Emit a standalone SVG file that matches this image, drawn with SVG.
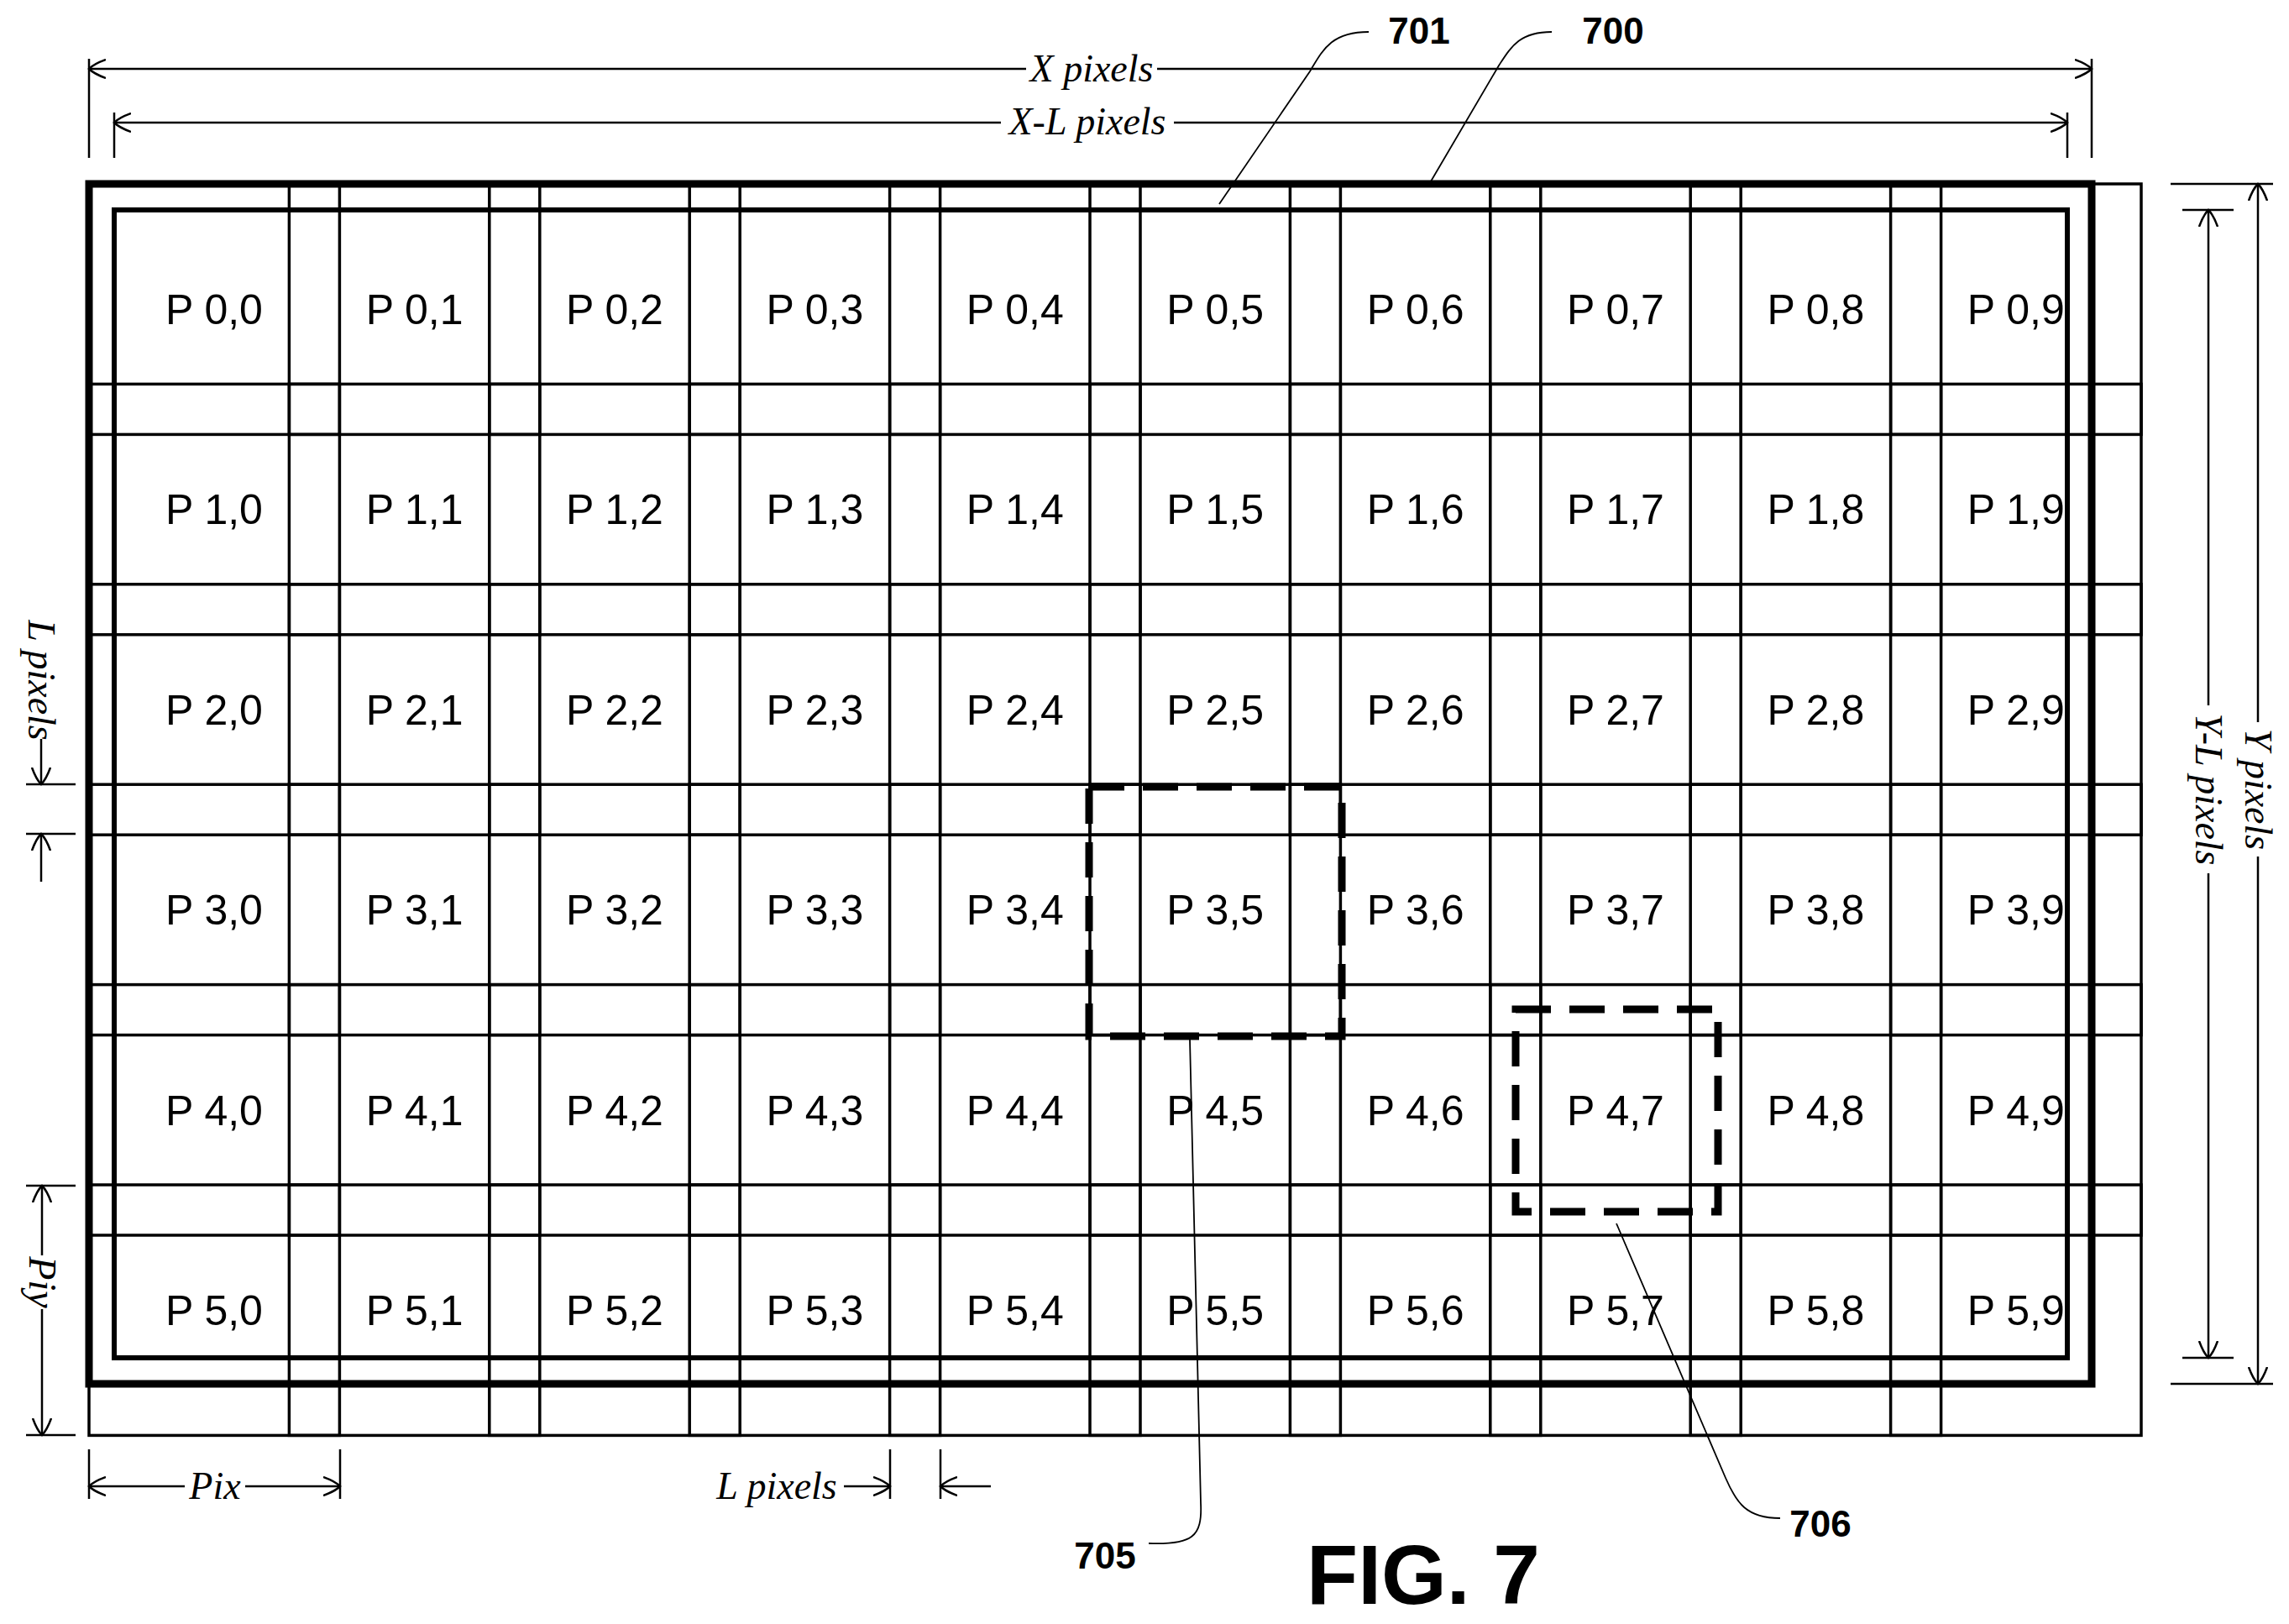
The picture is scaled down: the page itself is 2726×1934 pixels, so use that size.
<svg xmlns="http://www.w3.org/2000/svg" width="2726" height="1934" viewBox="0 0 2726 1934">
<style>
.px rect{fill:none;stroke:#000;stroke-width:3.5}
.px text{font-family:"Liberation Sans",Arial,sans-serif;font-size:50px;text-anchor:middle}
.dim{stroke:#000;stroke-width:2.5;fill:none}
.ld{stroke:#000;stroke-width:1.8;fill:none}
.dl{font-family:"Liberation Serif","Times New Roman",serif;font-style:italic;font-size:46px;text-anchor:middle}
.ref{font-family:"Liberation Sans",Arial,sans-serif;font-weight:bold;font-size:44px;text-anchor:middle}
.bg{fill:#fff;stroke:none}
.dash{fill:none;stroke:#000;stroke-width:9;stroke-dasharray:42 22}
</style>
<defs>
<marker id="ar" viewBox="-20 -12 22 24" refX="0" refY="0" markerWidth="22" markerHeight="24" markerUnits="userSpaceOnUse" orient="auto-start-reverse">
<path d="M-20,-11 Q-6,-6 0,0 Q-6,6 -20,11" fill="none" stroke="#000" stroke-width="2.5"/>
</marker>
</defs>
<rect width="2726" height="1934" fill="#fff"/>
<g id="pixels">
<g id="p00" class="px"><rect x="106" y="219" width="298.4" height="298.4"/><text x="255" y="386">P 0,0</text></g>
<g id="p01" class="px"><rect x="344.4" y="219" width="298.4" height="298.4"/><text x="493.6" y="386">P 0,1</text></g>
<g id="p02" class="px"><rect x="582.8" y="219" width="298.4" height="298.4"/><text x="732" y="386">P 0,2</text></g>
<g id="p03" class="px"><rect x="821.2" y="219" width="298.4" height="298.4"/><text x="970.4" y="386">P 0,3</text></g>
<g id="p04" class="px"><rect x="1059.6" y="219" width="298.4" height="298.4"/><text x="1208.8" y="386">P 0,4</text></g>
<g id="p05" class="px"><rect x="1298" y="219" width="298.4" height="298.4"/><text x="1447.2" y="386">P 0,5</text></g>
<g id="p06" class="px"><rect x="1536.4" y="219" width="298.4" height="298.4"/><text x="1685.6" y="386">P 0,6</text></g>
<g id="p07" class="px"><rect x="1774.8" y="219" width="298.4" height="298.4"/><text x="1924" y="386">P 0,7</text></g>
<g id="p08" class="px"><rect x="2013.2" y="219" width="298.4" height="298.4"/><text x="2162.4" y="386">P 0,8</text></g>
<g id="p09" class="px"><rect x="2251.6" y="219" width="298.4" height="298.4"/><text x="2400.8" y="386">P 0,9</text></g>
<g id="p10" class="px"><rect x="106" y="457.4" width="298.4" height="298.4"/><text x="255" y="624.4">P 1,0</text></g>
<g id="p11" class="px"><rect x="344.4" y="457.4" width="298.4" height="298.4"/><text x="493.6" y="624.4">P 1,1</text></g>
<g id="p12" class="px"><rect x="582.8" y="457.4" width="298.4" height="298.4"/><text x="732" y="624.4">P 1,2</text></g>
<g id="p13" class="px"><rect x="821.2" y="457.4" width="298.4" height="298.4"/><text x="970.4" y="624.4">P 1,3</text></g>
<g id="p14" class="px"><rect x="1059.6" y="457.4" width="298.4" height="298.4"/><text x="1208.8" y="624.4">P 1,4</text></g>
<g id="p15" class="px"><rect x="1298" y="457.4" width="298.4" height="298.4"/><text x="1447.2" y="624.4">P 1,5</text></g>
<g id="p16" class="px"><rect x="1536.4" y="457.4" width="298.4" height="298.4"/><text x="1685.6" y="624.4">P 1,6</text></g>
<g id="p17" class="px"><rect x="1774.8" y="457.4" width="298.4" height="298.4"/><text x="1924" y="624.4">P 1,7</text></g>
<g id="p18" class="px"><rect x="2013.2" y="457.4" width="298.4" height="298.4"/><text x="2162.4" y="624.4">P 1,8</text></g>
<g id="p19" class="px"><rect x="2251.6" y="457.4" width="298.4" height="298.4"/><text x="2400.8" y="624.4">P 1,9</text></g>
<g id="p20" class="px"><rect x="106" y="695.8" width="298.4" height="298.4"/><text x="255" y="862.8">P 2,0</text></g>
<g id="p21" class="px"><rect x="344.4" y="695.8" width="298.4" height="298.4"/><text x="493.6" y="862.8">P 2,1</text></g>
<g id="p22" class="px"><rect x="582.8" y="695.8" width="298.4" height="298.4"/><text x="732" y="862.8">P 2,2</text></g>
<g id="p23" class="px"><rect x="821.2" y="695.8" width="298.4" height="298.4"/><text x="970.4" y="862.8">P 2,3</text></g>
<g id="p24" class="px"><rect x="1059.6" y="695.8" width="298.4" height="298.4"/><text x="1208.8" y="862.8">P 2,4</text></g>
<g id="p25" class="px"><rect x="1298" y="695.8" width="298.4" height="298.4"/><text x="1447.2" y="862.8">P 2,5</text></g>
<g id="p26" class="px"><rect x="1536.4" y="695.8" width="298.4" height="298.4"/><text x="1685.6" y="862.8">P 2,6</text></g>
<g id="p27" class="px"><rect x="1774.8" y="695.8" width="298.4" height="298.4"/><text x="1924" y="862.8">P 2,7</text></g>
<g id="p28" class="px"><rect x="2013.2" y="695.8" width="298.4" height="298.4"/><text x="2162.4" y="862.8">P 2,8</text></g>
<g id="p29" class="px"><rect x="2251.6" y="695.8" width="298.4" height="298.4"/><text x="2400.8" y="862.8">P 2,9</text></g>
<g id="p30" class="px"><rect x="106" y="934.2" width="298.4" height="298.4"/><text x="255" y="1101.2">P 3,0</text></g>
<g id="p31" class="px"><rect x="344.4" y="934.2" width="298.4" height="298.4"/><text x="493.6" y="1101.2">P 3,1</text></g>
<g id="p32" class="px"><rect x="582.8" y="934.2" width="298.4" height="298.4"/><text x="732" y="1101.2">P 3,2</text></g>
<g id="p33" class="px"><rect x="821.2" y="934.2" width="298.4" height="298.4"/><text x="970.4" y="1101.2">P 3,3</text></g>
<g id="p34" class="px"><rect x="1059.6" y="934.2" width="298.4" height="298.4"/><text x="1208.8" y="1101.2">P 3,4</text></g>
<g id="p35" class="px"><rect x="1298" y="934.2" width="298.4" height="298.4"/><text x="1447.2" y="1101.2">P 3,5</text></g>
<g id="p36" class="px"><rect x="1536.4" y="934.2" width="298.4" height="298.4"/><text x="1685.6" y="1101.2">P 3,6</text></g>
<g id="p37" class="px"><rect x="1774.8" y="934.2" width="298.4" height="298.4"/><text x="1924" y="1101.2">P 3,7</text></g>
<g id="p38" class="px"><rect x="2013.2" y="934.2" width="298.4" height="298.4"/><text x="2162.4" y="1101.2">P 3,8</text></g>
<g id="p39" class="px"><rect x="2251.6" y="934.2" width="298.4" height="298.4"/><text x="2400.8" y="1101.2">P 3,9</text></g>
<g id="p40" class="px"><rect x="106" y="1172.6" width="298.4" height="298.4"/><text x="255" y="1339.6">P 4,0</text></g>
<g id="p41" class="px"><rect x="344.4" y="1172.6" width="298.4" height="298.4"/><text x="493.6" y="1339.6">P 4,1</text></g>
<g id="p42" class="px"><rect x="582.8" y="1172.6" width="298.4" height="298.4"/><text x="732" y="1339.6">P 4,2</text></g>
<g id="p43" class="px"><rect x="821.2" y="1172.6" width="298.4" height="298.4"/><text x="970.4" y="1339.6">P 4,3</text></g>
<g id="p44" class="px"><rect x="1059.6" y="1172.6" width="298.4" height="298.4"/><text x="1208.8" y="1339.6">P 4,4</text></g>
<g id="p45" class="px"><rect x="1298" y="1172.6" width="298.4" height="298.4"/><text x="1447.2" y="1339.6">P 4,5</text></g>
<g id="p46" class="px"><rect x="1536.4" y="1172.6" width="298.4" height="298.4"/><text x="1685.6" y="1339.6">P 4,6</text></g>
<g id="p47" class="px"><rect x="1774.8" y="1172.6" width="298.4" height="298.4"/><text x="1924" y="1339.6">P 4,7</text></g>
<g id="p48" class="px"><rect x="2013.2" y="1172.6" width="298.4" height="298.4"/><text x="2162.4" y="1339.6">P 4,8</text></g>
<g id="p49" class="px"><rect x="2251.6" y="1172.6" width="298.4" height="298.4"/><text x="2400.8" y="1339.6">P 4,9</text></g>
<g id="p50" class="px"><rect x="106" y="1411" width="298.4" height="298.4"/><text x="255" y="1578">P 5,0</text></g>
<g id="p51" class="px"><rect x="344.4" y="1411" width="298.4" height="298.4"/><text x="493.6" y="1578">P 5,1</text></g>
<g id="p52" class="px"><rect x="582.8" y="1411" width="298.4" height="298.4"/><text x="732" y="1578">P 5,2</text></g>
<g id="p53" class="px"><rect x="821.2" y="1411" width="298.4" height="298.4"/><text x="970.4" y="1578">P 5,3</text></g>
<g id="p54" class="px"><rect x="1059.6" y="1411" width="298.4" height="298.4"/><text x="1208.8" y="1578">P 5,4</text></g>
<g id="p55" class="px"><rect x="1298" y="1411" width="298.4" height="298.4"/><text x="1447.2" y="1578">P 5,5</text></g>
<g id="p56" class="px"><rect x="1536.4" y="1411" width="298.4" height="298.4"/><text x="1685.6" y="1578">P 5,6</text></g>
<g id="p57" class="px"><rect x="1774.8" y="1411" width="298.4" height="298.4"/><text x="1924" y="1578">P 5,7</text></g>
<g id="p58" class="px"><rect x="2013.2" y="1411" width="298.4" height="298.4"/><text x="2162.4" y="1578">P 5,8</text></g>
<g id="p59" class="px"><rect x="2251.6" y="1411" width="298.4" height="298.4"/><text x="2400.8" y="1578">P 5,9</text></g>
</g>
<g id="frame700"><rect x="106" y="219" width="2385" height="1429" fill="none" stroke="#000" stroke-width="9"/></g>
<g id="frame701"><rect x="136" y="250" width="2326" height="1367" fill="none" stroke="#000" stroke-width="6"/></g>
<g id="box705"><rect x="1297" y="937" width="301" height="297" class="dash"/></g>
<g id="box706"><rect x="1805" y="1202" width="241" height="241" class="dash"/></g>
<g id="connectors">
<path class="dim" d="M106,70V188M2491,70V188M136,134V188M2462,134V188"/>
<path class="dim" d="M106,82H2491" marker-start="url(#ar)" marker-end="url(#ar)"/>
<path class="dim" d="M136,146H2462" marker-start="url(#ar)" marker-end="url(#ar)"/>
<path class="dim" d="M2585,219H2707M2585,1648H2707M2599,250H2660M2599,1617H2660"/>
<path class="dim" d="M2689,219V1648" marker-start="url(#ar)" marker-end="url(#ar)"/>
<path class="dim" d="M2630,250V1617" marker-start="url(#ar)" marker-end="url(#ar)"/>
<path class="dim" d="M31,934H90M31,993H90M31,1412H90M31,1709H90"/>
<path class="dim" d="M49,880V934" marker-end="url(#ar)"/>
<path class="dim" d="M49,1050V993" marker-end="url(#ar)"/>
<path class="dim" d="M50,1412V1709" marker-start="url(#ar)" marker-end="url(#ar)"/>
<path class="dim" d="M106,1726V1785M405,1726V1785M1060,1726V1785M1120,1726V1785"/>
<path class="dim" d="M106,1770H405" marker-start="url(#ar)" marker-end="url(#ar)"/>
<path class="dim" d="M1005,1770H1060" marker-end="url(#ar)"/>
<path class="dim" d="M1180,1770H1120" marker-end="url(#ar)"/>
<path class="ld" d="M1630,38C1585,38 1575,60 1560,85L1452,243"/>
<path class="ld" d="M1848,38C1810,38 1800,55 1785,78L1704,216"/>
<path class="ld" d="M1368,1838C1420,1840 1432,1830 1430,1790L1417,1238"/>
<path class="ld" d="M2120,1808C2080,1808 2068,1790 2055,1760L1925,1457"/>
</g>
<g id="labels">
<rect class="bg" x="1222" y="60" width="156" height="44"/>
<text class="dl" x="1300" y="97">X pixels</text>
<rect class="bg" x="1192" y="124" width="206" height="44"/>
<text class="dl" x="1295" y="160">X-L pixels</text>
<rect class="bg" x="2665" y="860" width="48" height="160"/>
<text class="dl" transform="translate(2689,940) rotate(90)" y="15">Y pixels</text>
<rect class="bg" x="2606" y="840" width="48" height="200"/>
<text class="dl" transform="translate(2630,940) rotate(90)" y="15">Y-L pixels</text>
<text class="dl" transform="translate(49,810) rotate(90)" y="15">L pixels</text>
<rect class="bg" x="26" y="1495" width="48" height="64"/>
<text class="dl" transform="translate(50,1527) rotate(90)" y="15">Piy</text>
<rect class="bg" x="220" y="1748" width="72" height="44"/>
<text class="dl" x="256" y="1785">Pix</text>
<text class="dl" x="925" y="1785">L pixels</text>
<text class="ref" x="1690" y="52">701</text>
<text class="ref" x="1921" y="52">700</text>
<text class="ref" x="1316" y="1868">705</text>
<text class="ref" x="2168" y="1830">706</text>
<text x="1695" y="1910" font-family="Liberation Sans,Arial,sans-serif" font-weight="bold" font-size="100" text-anchor="middle">FIG. 7</text>
</g>
</svg>
